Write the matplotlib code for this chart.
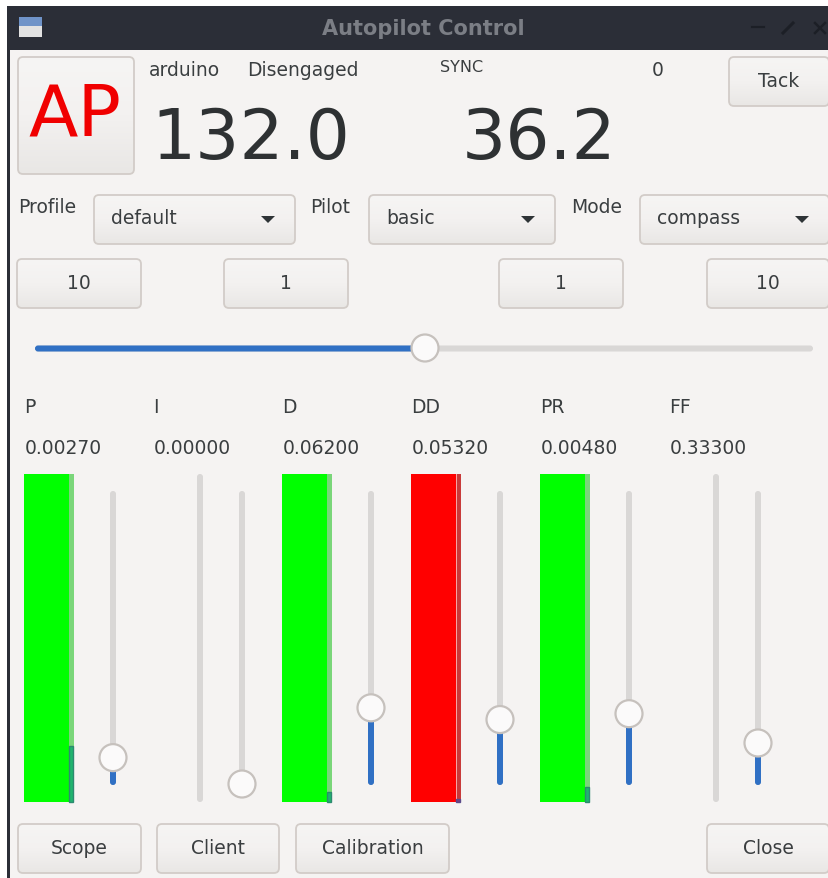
import matplotlib
matplotlib.use("Agg")
import matplotlib.pyplot as plt
import numpy as np
from matplotlib.colors import LinearSegmentedColormap
from matplotlib.patches import Rectangle, FancyBboxPatch, Circle, Polygon

# values
heading = "132.0"
command = "36.2"
gain_names = ["P", "I", "D", "DD", "PR", "FF"]
gain_values = ["0.00270", "0.00000", "0.06200", "0.05320", "0.00480", "0.33300"]
meter_colors = ["#00ff00", None, "#00ff00", "#ff0000", "#00ff00", None]
meter_levels = [0.17, 0, 0.03, 0.01, 0.045, 0]
slider_levels = [0.09, 0.0, 0.26, 0.22, 0.24, 0.14]
heading_slider = 0.50

TEXT = "#3a3e40"
BORDER = "#d2ccc8"
TROUGH = "#d9d7d6"
BLUE = "#3070c4"

fig = plt.figure(figsize=(8.29, 8.79), dpi=100, facecolor="white")
ax = fig.add_axes([0, 0, 1, 1])
ax.set_autoscale_on(False)
ax.set_xlim(0, 829)
ax.set_ylim(878, -1)
ax.axis("off")
button_fill = LinearSegmentedColormap.from_list("button", ["#f6f5f4", "#f3f1f0", "#e9e7e5"])
gradient = np.linspace(0, 1, 64).reshape(-1, 1)


def rect(x0, y0, x1, y1, color, z=1, **kw):
    ax.add_patch(Rectangle((x0, y0), x1 - x0, y1 - y0, facecolor=color, edgecolor="none", zorder=z, **kw))


def label(x, y, s, size=13.5, ha="left", color=TEXT, **kw):
    ax.text(x, y, s, fontsize=size, ha=ha, va="center", color=color, family="DejaVu Sans", zorder=6, **kw)


def button(x0, y0, x1, y1, s=None, size=13.5):
    box = FancyBboxPatch((x0 + 4, y0 + 4), x1 - x0 - 8, y1 - y0 - 8, boxstyle="round,pad=4,rounding_size=5",
                         facecolor="none", edgecolor=BORDER, linewidth=1.3, zorder=3)
    ax.add_patch(box)
    img = ax.imshow(gradient, cmap=button_fill, extent=(x0, x1, y1, y0), aspect="auto", zorder=2)
    img.set_clip_path(box)
    if s:
        label((x0 + x1) / 2, (y0 + y1) / 2 - 1, s, size, ha="center")


def combo(x0, x1, s):
    button(x0, 195, x1, 244)
    label(x0 + 17, 218, s)
    ax.add_patch(Polygon([(x1 - 34, 216), (x1 - 20, 216), (x1 - 27, 223)], facecolor="#2e3436", edgecolor="none", zorder=6))


def track(x0, y0, x1, y1, color):
    w = min(x1 - x0, y1 - y0)
    ax.add_patch(FancyBboxPatch((x0 + w / 2, y0 + w / 2), x1 - x0 - w, y1 - y0 - w, boxstyle=f"round,pad={w / 2},rounding_size={w / 2}",
                                facecolor=color, edgecolor="none", zorder=2))


def knob(x, y):
    ax.add_patch(Circle((x, y), 13.5, facecolor="#fbfafa", edgecolor="#c6c1bd", linewidth=1.6, zorder=4))


# window
rect(0, -1, 829, 879, "white", 0)
rect(7, 6, 829, 879, "#f5f3f2", 0.5)
rect(7, 6, 829, 50, "#2b2e37")
rect(7, 50, 10, 879, "#2b2e37")
rect(19, 17, 42, 26, "#6f93c8", 2)
rect(19, 26, 42, 37, "#e2e2e2", 2)
label(423, 28, "Autopilot Control", 15, ha="center", color="#7b7e85", fontweight="bold")
ctl = "#1c1f26"
ax.plot([752, 764], [27, 27], color=ctl, lw=1.6, zorder=3)
ax.plot([783, 793], [33, 23], color=ctl, lw=2.2, zorder=3)
ax.plot([815, 825], [23, 33], color=ctl, lw=1.8, zorder=3)
ax.plot([815, 825], [33, 23], color=ctl, lw=1.8, zorder=3)

# top row
button(18, 57, 134, 174)
label(75, 115, "AP", 52, ha="center", color="#f00000")
label(149, 70, "arduino")
label(247, 70, "Disengaged")
label(440, 66, "SYNC", 11.5)
label(652, 70, "0")
button(729, 57, 829, 106, "Tack")
label(151, 138, heading, 50, color="#2e3133")
label(462, 138, command, 50, color="#2e3133")

# mode selectors
label(18, 207, "Profile")
label(310, 207, "Pilot")
label(571, 207, "Mode")
combo(94, 295, "default")
combo(369, 555, "basic")
combo(640, 829, "compass")

# nudge buttons
button(17, 259, 141, 308, "10")
button(224, 259, 348, 308, "1")
button(499, 259, 623, 308, "1")
button(707, 259, 829, 308, "10")

# heading slider
track(35, 345.5, 813, 351.5, TROUGH)
knob_x = 35 + heading_slider * (813 - 35) + 1
track(35, 345.5, knob_x, 351.5, BLUE)
knob(knob_x, 348)

# gains
for i, name in enumerate(gain_names):
    x = 24 + 129 * i
    label(x, 407, name)
    label(x + 1, 448, gain_values[i])
    if meter_colors[i]:
        rect(x, 474, x + 50, 802, meter_colors[i], 2)
        if meter_colors[i] == "#00ff00":
            strip, fill, edge = "#7ad67a", "#1fb56e", "#2d8a70"
        else:
            strip, fill, edge = "#c83a3a", "#7a3f7f", "#5a4a8a"
        rect(x + 45, 474, x + 50, 802, strip, 3)
        if meter_colors[i] == "#ff0000":
            rect(x + 45, 474, x + 46.5, 802, "#f5a5a5", 3)
        ax.add_patch(Rectangle((x + 45.5, 802 - meter_levels[i] * 328), 4, meter_levels[i] * 328,
                               facecolor=fill, edgecolor=edge, linewidth=1, zorder=4))
    else:
        track(x + 44, 474, x + 50, 802, TROUGH)
    sx = x + 89
    track(sx - 3, 491, sx + 3, 785, TROUGH)
    ky = 784 - slider_levels[i] * 293
    if slider_levels[i] > 0:
        track(sx - 3, ky, sx + 3, 785, BLUE)
    knob(sx, ky)

# bottom buttons
button(18, 824, 141, 873, "Scope")
button(157, 824, 279, 873, "Client")
button(296, 824, 449, 873, "Calibration")
button(707, 824, 829, 873, "Close")

fig.savefig("out.png", dpi=100)
